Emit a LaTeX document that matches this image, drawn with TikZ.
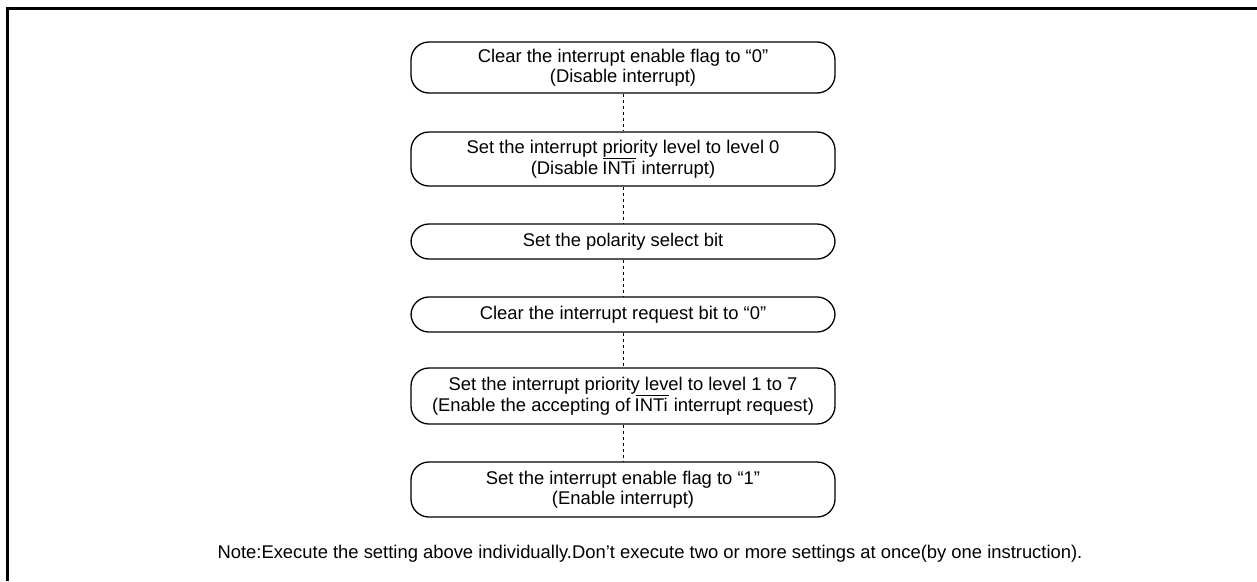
\documentclass[tikz,border=0pt]{standalone}
\usepackage{fontspec}
\setmainfont{Liberation Sans}
\newcommand{\ovlINT}{\leavevmode\vbox{\hrule height 0.9pt\kern 1.6pt\hbox{\kern-1pt INTi\kern1pt}}}
\begin{document}
\begin{tikzpicture}[x=1pt,y=-1pt,
  stepbox/.style={draw, line width=1.3pt, rounded corners=18pt, minimum width=424pt, inner sep=0pt, align=center, font=\fontsize{18.4}{20.5}\selectfont},
  conn/.style={line width=1pt, dash pattern=on 3pt off 3pt}]
\useasboundingbox (0,0) rectangle (1257,581);
\draw[line width=2.6pt] (7.3,581) -- (7.3,8.3) -- (1257,8.3);
\node[stepbox, minimum height=51pt] (b1) at (623,67.5) {Clear the interrupt enable flag to “0”\\(Disable interrupt)};
\node[stepbox, minimum height=54pt] (b2) at (623,159) {Set the interrupt priority level to level 0\\(Disable \ovlINT{} interrupt)};
\node[stepbox, minimum height=35pt] (b3) at (623,241.5) {Set the polarity select bit};
\node[stepbox, minimum height=35pt] (b4) at (623,314.5) {Clear the interrupt request bit to “0”};
\node[stepbox, minimum height=56pt] (b5) at (623,396) {Set the interrupt priority level to level 1 to 7\\(Enable the accepting of \ovlINT{} interrupt request)};
\node[stepbox, minimum height=55pt] (b6) at (623,489.5) {Set the interrupt enable flag to “1”\\(Enable interrupt)};
\draw[conn] (b1.south) -- (b2.north);
\draw[conn] (b2.south) -- (b3.north);
\draw[conn] (b3.south) -- (b4.north);
\draw[conn] (b4.south) -- (b5.north);
\draw[conn] (b5.south) -- (b6.north);
\node[font=\fontsize{18.4}{20.5}\selectfont, inner sep=0pt] (note) at (650,554) {Note:Execute the setting above individually.Don't execute two or more settings at once(by one instruction).};
\end{tikzpicture}
\end{document}
